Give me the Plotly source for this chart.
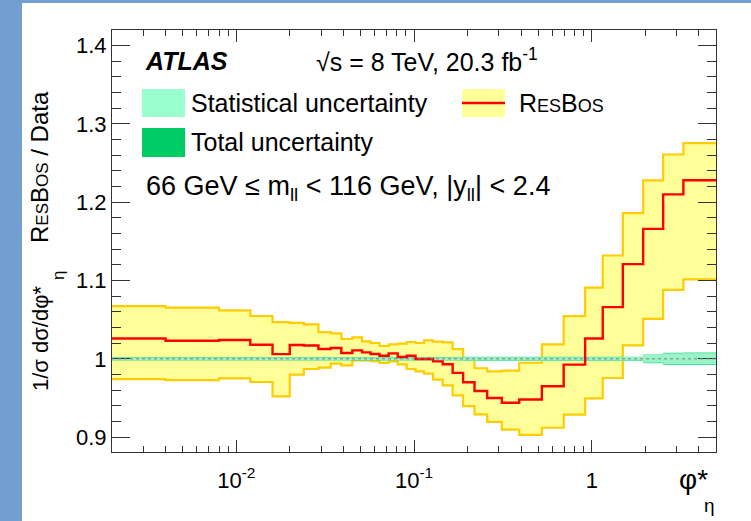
import math
import plotly.graph_objects as go

# ---------------- data ----------------
phi_edges = [0.002, 0.004, 0.008, 0.012, 0.016, 0.020, 0.024, 0.029, 0.034, 0.039,
             0.045, 0.051, 0.057, 0.064, 0.072, 0.081, 0.091, 0.102, 0.114, 0.128,
             0.145, 0.165, 0.189, 0.219, 0.258, 0.312, 0.391, 0.524, 0.695, 0.918,
             1.153, 1.496, 1.947, 2.522, 3.277, 5.0]

resbos_ratio = [1.026, 1.023, 1.024, 1.018, 1.006, 1.0176, 1.017, 1.0125, 1.0138, 1.0074,
                1.0108, 1.0083, 1.0061, 1.004, 1.007, 1.0023, 1.004, 0.9997, 0.9997, 0.9968,
                0.993, 0.982, 0.970, 0.959, 0.950, 0.944, 0.948, 0.965, 0.9926, 1.026,
                1.066, 1.121, 1.166, 1.210, 1.228]

resbos_upper = [1.0674, 1.0654, 1.062, 1.0547, 1.047, 1.046, 1.044, 1.034, 1.0326, 1.0253,
                1.0275, 1.0223, 1.0202, 1.0164, 1.0185, 1.0194, 1.0215, 1.0202, 1.0236, 1.022,
                1.021, 1.0125, 1.000, 0.988, 0.984, 0.985, 0.995, 1.0185, 1.0545, 1.091,
                1.132, 1.186, 1.228, 1.261, 1.2756]

resbos_lower = [0.9742, 0.9729, 0.975, 0.9704, 0.952, 0.9798, 0.987, 0.9887, 0.9939, 0.9917,
                0.998, 0.998, 0.997, 0.9947, 0.9968, 0.993, 0.987, 0.984, 0.981, 0.9734,
                0.966, 0.9534, 0.9397, 0.929, 0.9195, 0.9096, 0.903, 0.912, 0.9287, 0.9495,
                0.9755, 1.0172, 1.051, 1.088, 1.1015]

stat_unc = [0.0014] * 22 + [0.0020] * 7 + [0.0020, 0.0020, 0.0022, 0.0048, 0.0068, 0.0070]
total_unc = [0.0020] * 22 + [0.0027] * 7 + [0.0027, 0.0027, 0.0028, 0.0056, 0.0078, 0.0080]

y_ticks = [0.9, 1.0, 1.1, 1.2, 1.3, 1.4]
y_ticktext = ["0.9", "1", "1.1", "1.2", "1.3", "1.4"]
x_ticks = [0.01, 0.1, 1]
x_ticktext = ["10<sup>-2</sup>", "10<sup>-1</sup>", "1"]

FONT = "Liberation Sans, Arial, Helvetica, sans-serif"


def stepped(vals):
    return list(vals) + [vals[-1]]


fig = go.Figure()

# ResBos uncertainty band
fig.add_trace(go.Scatter(x=phi_edges, y=stepped(resbos_lower), mode="lines",
                         line=dict(shape="hv", color="#ffcc00", width=2.2),
                         hoverinfo="skip", showlegend=False))
fig.add_trace(go.Scatter(x=phi_edges, y=stepped(resbos_upper), mode="lines",
                         line=dict(shape="hv", color="#ffcc00", width=2.2),
                         fill="tonexty", fillcolor="#ffff99",
                         hoverinfo="skip", showlegend=False))

# total uncertainty band
fig.add_trace(go.Scatter(x=phi_edges, y=stepped([1 - u for u in total_unc]), mode="lines",
                         line=dict(shape="hv", color="rgba(0,0,0,0)", width=0),
                         hoverinfo="skip", showlegend=False))
fig.add_trace(go.Scatter(x=phi_edges, y=stepped([1 + u for u in total_unc]), mode="lines",
                         line=dict(shape="hv", color="rgba(0,0,0,0)", width=0),
                         fill="tonexty", fillcolor="#33d98a",
                         hoverinfo="skip", showlegend=False))
# statistical band
fig.add_trace(go.Scatter(x=phi_edges, y=stepped([1 - u for u in stat_unc]), mode="lines",
                         line=dict(shape="hv", color="rgba(0,0,0,0)", width=0),
                         hoverinfo="skip", showlegend=False))
fig.add_trace(go.Scatter(x=phi_edges, y=stepped([1 + u for u in stat_unc]), mode="lines",
                         line=dict(shape="hv", color="rgba(0,0,0,0)", width=0),
                         fill="tonexty", fillcolor="#99f5c8",
                         hoverinfo="skip", showlegend=False))

# reference line at 1
fig.add_hline(y=1, line=dict(color="#7f7f7f", width=1, dash="dot"), layer="above")

# ResBos central
fig.add_trace(go.Scatter(x=phi_edges, y=stepped(resbos_ratio), mode="lines",
                         line=dict(shape="hv", color="#ff0000", width=2.4),
                         hoverinfo="skip", showlegend=False))

L, R, T, B = 112, 35, 30, 69
W, H = 751, 521
pw, ph = W - L - R, H - T - B


def px(xpix):
    return (xpix - L) / pw


def py(ypix):
    return (H - B - ypix) / ph


shapes = [
    # blue frame strips
    dict(type="rect", xref="paper", yref="paper", x0=px(0), x1=px(22), y0=py(H), y1=py(0),
         fillcolor="#729fcf", line=dict(width=0), layer="below"),
    dict(type="rect", xref="paper", yref="paper", x0=px(0), x1=px(W), y0=py(3), y1=py(0),
         fillcolor="#729fcf", line=dict(width=0), layer="below"),
    # legend boxes
    dict(type="rect", xref="paper", yref="paper", x0=px(142), x1=px(185), y0=py(117), y1=py(89),
         fillcolor="#99ffcc", line=dict(width=0)),
    dict(type="rect", xref="paper", yref="paper", x0=px(142), x1=px(185), y0=py(157), y1=py(128),
         fillcolor="#00cc66", line=dict(width=0)),
    dict(type="rect", xref="paper", yref="paper", x0=px(462), x1=px(505), y0=py(117), y1=py(89),
         fillcolor="#ffff99", line=dict(width=0)),
    dict(type="line", xref="paper", yref="paper", x0=px(462), x1=px(505), y0=py(103), y1=py(103),
         line=dict(color="#ff0000", width=2.4)),
]
for s in shapes:
    fig.add_shape(**s)

ann = []


def text(xpix, ypix, t, size, xanchor="left", yanchor="middle", **kw):
    ann.append(dict(xref="paper", yref="paper", x=px(xpix), y=py(ypix), text=t,
                    showarrow=False, xanchor=xanchor, yanchor=yanchor,
                    font=dict(family=FONT, size=size, color="black"), **kw))


text(143, 61, "<b><i>ATLAS</i></b>", 25)
text(314, 60, "√s = 8 TeV, 20.3 fb<sup>-1</sup>", 25)
text(189, 103, "Statistical uncertainty", 25)
text(189, 142, "Total uncertainty", 25)
text(517, 103, "R<span style='font-size:18px'>ES</span>B<span style='font-size:18px'>OS</span>", 25)
text(144, 188, "66 GeV ≤ m<sub>ll</sub> &lt; 116 GeV, |y<sub>ll</sub>| &lt; 2.4", 27)
# x-axis title
text(693, 479, "φ*", 28, xanchor="center")
text(709, 505, "η", 19, xanchor="center")
# y-axis title (rotated)
text(40, 339, "1/σ dσ/dφ*", 22, xanchor="center", textangle=-90)
text(58, 276, "η", 17, xanchor="center", textangle=-90)
text(40, 167, "R<span style='font-size:17px'>ES</span>B<span style='font-size:17px'>OS</span> / Data",
     24, xanchor="center", textangle=-90)

fig.update_layout(
    width=W, height=H,
    margin=dict(l=L, r=R, t=T, b=B),
    paper_bgcolor="white", plot_bgcolor="white",
    annotations=ann,
    showlegend=False,
    font=dict(family=FONT, color="black"),
)

minor_x = [m * 10.0 ** e for e in (-3, -2, -1, 0) for m in range(2, 10)]
minor_x = [v for v in minor_x if 0.002 <= v <= 5.0 and v not in x_ticks]

fig.update_xaxes(
    type="log", range=[math.log10(0.002), math.log10(5.0)],
    tickvals=x_ticks, ticktext=x_ticktext,
    ticks="inside", ticklen=12, tickwidth=1, tickcolor="#333",
    showline=True, linecolor="#333", linewidth=1.2, mirror="allticks",
    showgrid=False, zeroline=False,
    tickfont=dict(family=FONT, size=22, color="black"),
    ticklabelstandoff=8,
    minor=dict(tickvals=minor_x, ticks="inside", ticklen=6, tickwidth=1, tickcolor="#333", showgrid=False),
)
fig.update_yaxes(
    range=[0.881, 1.42],
    tickvals=y_ticks, ticktext=y_ticktext,
    ticks="inside", ticklen=18, tickwidth=1, tickcolor="#333",
    showline=True, linecolor="#333", linewidth=1.2, mirror="allticks",
    showgrid=False, zeroline=False,
    tickfont=dict(family=FONT, size=22, color="black"),
    minor=dict(dtick=0.02, ticks="inside", ticklen=9, tickwidth=1, tickcolor="#333", showgrid=False),
)

fig.write_html("out.html")
